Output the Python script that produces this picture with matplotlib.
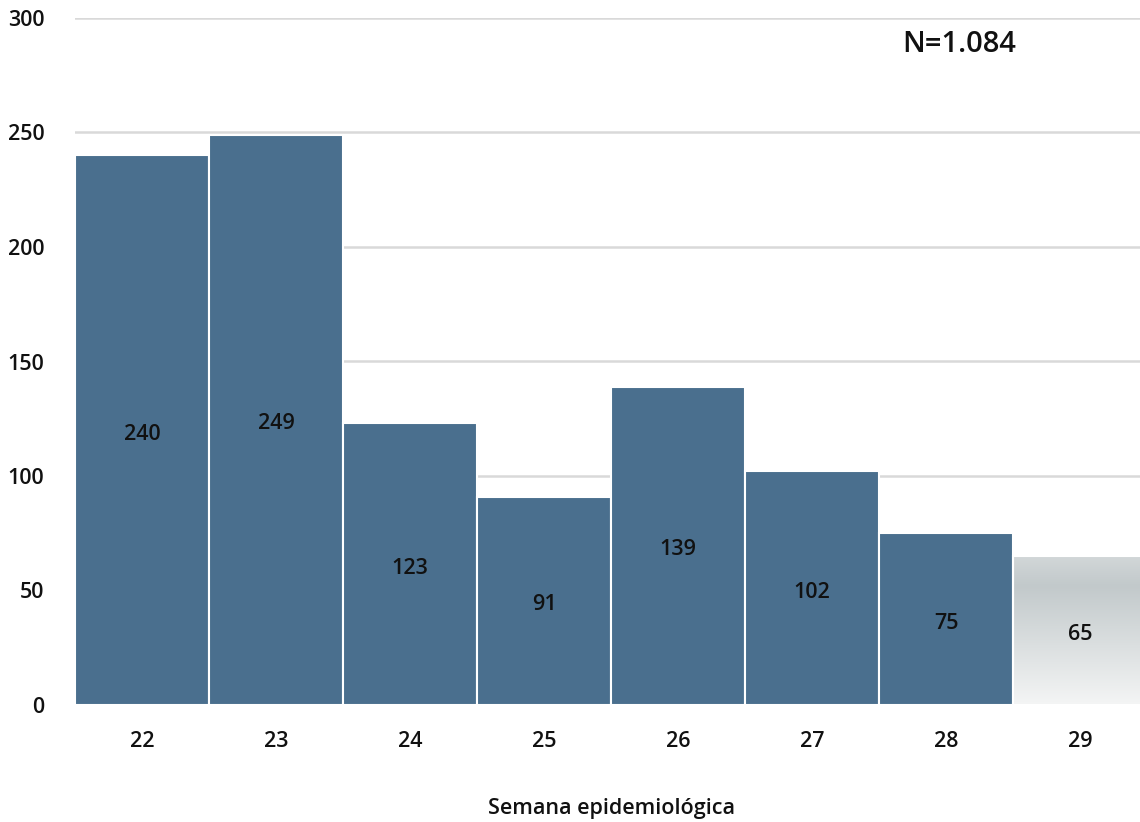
import matplotlib
matplotlib.use("Agg")
import matplotlib.pyplot as plt
import numpy as np
from matplotlib.colors import LinearSegmentedColormap

weeks = ["22", "23", "24", "25", "26", "27", "28", "29"]
cases = [240, 249, 123, 91, 139, 102, 75, 65]
y_ticks = [0, 50, 100, 150, 200, 250, 300]
total_label = "N=1.084"
x_title = "Semana epidemiológica"

plt.rcParams['font.family'] = ['Open Sans', 'DejaVu Sans']
FS = 15.5
FW = "semibold"

fig = plt.figure(figsize=(11.4, 8.22), dpi=100)
ax = fig.add_axes([75/1140, 117/822, 1072/1140, 687/822])

x = np.arange(len(weeks))
bar_color = "#4a6f8e"
bars = ax.bar(x, cases, width=1.0, color=bar_color, edgecolor="white", linewidth=1.5, zorder=2)

# gradient for last (provisional) week
last = bars[-1]
last.set_facecolor("none")
cmap = LinearSegmentedColormap.from_list("g", [(0, "#f4f5f5"), (0.8, "#c2c9cb"), (1.0, "#d2d7d8")])
grad = np.linspace(0, 1, 256).reshape(-1, 1)
im = ax.imshow(grad, cmap=cmap, aspect="auto", origin="lower",
               extent=[x[-1] - 0.5, x[-1] + 0.5, 0, cases[-1]], zorder=1.9)
im.set_clip_path(last)

for xi, v in zip(x, cases):
    ax.text(xi, v / 2 - 1.7, str(v), ha="center", va="center", fontsize=FS, fontweight=FW,
            color="#111111", zorder=3)

ax.set_xlim(-0.5, len(weeks) - 0.5)
ax.set_ylim(0, 300)
ax.set_yticks(y_ticks)
ax.set_yticklabels([str(t) for t in y_ticks])
ax.set_xticks(x)
ax.set_xticklabels(weeks)
ax.tick_params(axis="both", length=0, labelsize=FS, colors="#111111")
for lab in ax.get_xticklabels() + ax.get_yticklabels():
    lab.set_fontweight(FW)
ax.tick_params(axis="y", pad=22)
ax.tick_params(axis="x", pad=19)
ax.yaxis.grid(True, color="#d9d9d9", linewidth=1.8, zorder=0)
ax.set_axisbelow(True)
for s in ax.spines.values():
    s.set_visible(False)

ax.set_xlabel(x_title, fontsize=FS, fontweight=FW, labelpad=33, color="#111111")
ax.text(0.825, 0.962, total_label, transform=ax.transAxes, ha="center", va="center",
        fontsize=21, fontweight=FW, color="#111111")

fig.savefig("out.png", dpi=100)
